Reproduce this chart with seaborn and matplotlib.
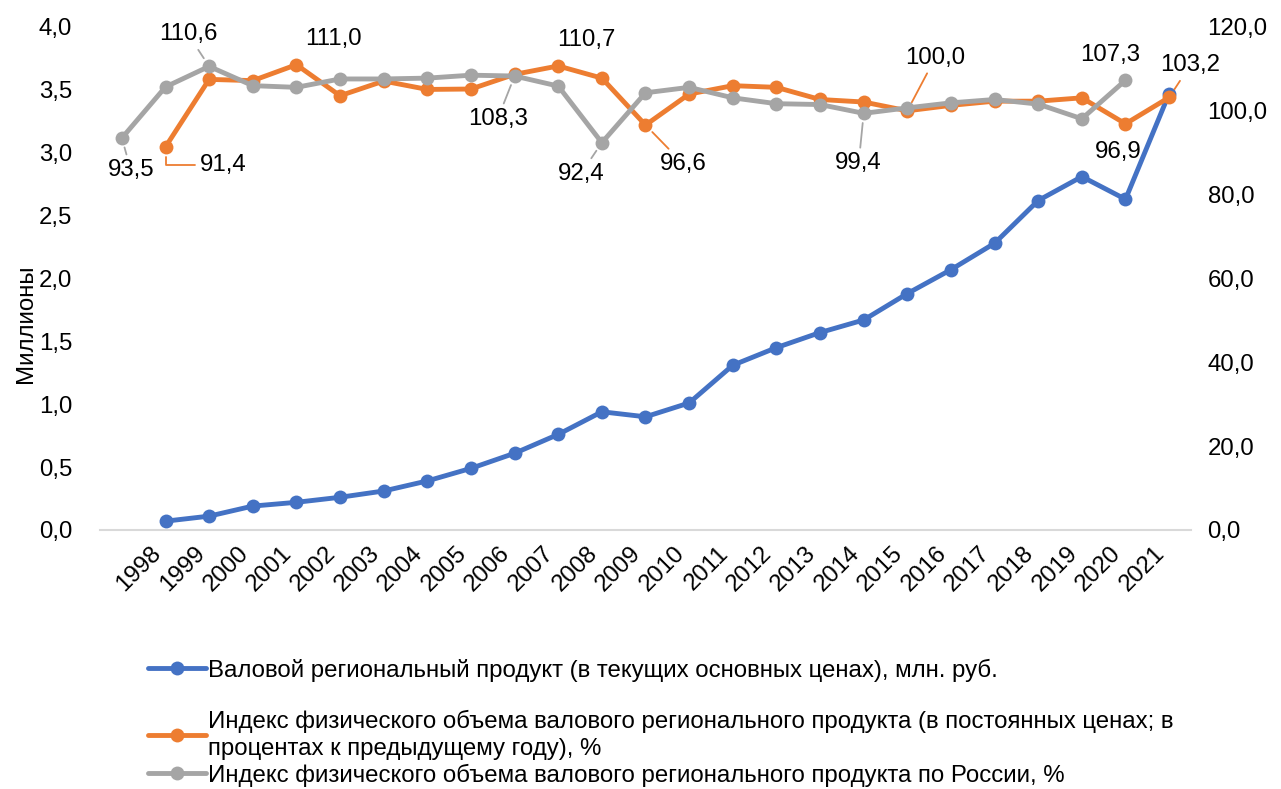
import numpy as np
import pandas as pd
import matplotlib
matplotlib.use("Agg")
import matplotlib.pyplot as plt
import seaborn as sns
from matplotlib.ticker import FuncFormatter
from matplotlib.lines import Line2D

# data
years = list(range(1998, 2022))
grp_mln = [0.07, 0.11, 0.19, 0.22, 0.26, 0.31, 0.39, 0.49, 0.61, 0.76, 0.94, 0.90,
           1.01, 1.31, 1.45, 1.57, 1.67, 1.88, 2.07, 2.28, 2.62, 2.81, 2.63, 3.47]
idx_region = [91.4, 107.5, 107.2, 111.0, 103.6, 107.1, 105.1, 105.2, 108.7, 110.7,
              107.8, 96.6, 104.0, 106.0, 105.6, 102.7, 102.1, 100.0, 101.3, 102.3,
              102.3, 103.1, 96.9, 103.2]
# the Russia series sits one category to the left in the source chart
russia_years = list(range(1997, 2021))
idx_russia = [93.5, 105.7, 110.6, 106.0, 105.6, 107.6, 107.6, 107.8, 108.5, 108.3,
              105.9, 92.4, 104.3, 105.6, 103.1, 101.7, 101.5, 99.4, 100.7, 101.9,
              102.7, 101.6, 98.1, 107.3]

lbl_grp = "Валовой региональный продукт (в текущих основных ценах), млн. руб."
lbl_reg = ("Индекс физического объема валового регионального продукта (в постоянных ценах; в\n"
           "процентах к предыдущему году), %")
lbl_rus = "Индекс физического объема валового регионального продукта по России, %"

c_blue, c_orange, c_gray = "#4472C4", "#ED7D31", "#A5A5A5"

sns.set_theme(style="white")
plt.rcParams["font.family"] = ["Liberation Sans", "DejaVu Sans"]
plt.rcParams["text.color"] = "black"
FS = 17.3

df_grp = pd.DataFrame({"pos": [y - 1998 for y in years], "val": grp_mln})
df_reg = pd.DataFrame({"pos": [y - 1998 for y in years], "val": idx_region})
df_rus = pd.DataFrame({"pos": [y - 1998 for y in russia_years], "val": idx_russia})

fig = plt.figure(figsize=(12.81, 7.89), dpi=100)
ax = fig.add_axes([0.0781, 0.3283, 0.8516, 0.6375])
ax2 = ax.twinx()

line_kw = dict(marker="o", markersize=10, linewidth=3.5, markeredgewidth=0)
sns.lineplot(data=df_grp, x="pos", y="val", ax=ax, color=c_blue, **line_kw)
sns.lineplot(data=df_reg, x="pos", y="val", ax=ax2, color=c_orange, **line_kw)
sns.lineplot(data=df_rus, x="pos", y="val", ax=ax2, color=c_gray, **line_kw)

ax.set_xlim(-1.5, 23.5)
ax.set_ylim(0, 4)
ax2.set_ylim(0, 120)
ax.set_yticks(np.arange(0, 4.01, 0.5))
ax2.set_yticks(np.arange(0, 121, 20))
fmt = FuncFormatter(lambda v, p: f"{v:.1f}".replace(".", ","))
ax.yaxis.set_major_formatter(fmt)
ax2.yaxis.set_major_formatter(fmt)

ax.set_xticks([y - 1998 for y in years])
ax.set_xticklabels([str(y) for y in years], rotation=45, ha="right", va="top",
                   fontsize=FS, color="black")
ax.tick_params(axis="x", length=0, pad=9)
ax.tick_params(axis="y", length=0, pad=20, labelsize=FS, labelcolor="black")
ax2.tick_params(axis="y", length=0, pad=12, labelsize=FS, labelcolor="black")
ax.set_xlabel("")
ax2.set_xlabel("")
ax2.set_ylabel("")
ax.set_ylabel("Миллионы", fontsize=FS, color="black")
ax.yaxis.set_label_coords(-0.058, 0.41)

for a in (ax, ax2):
    for s in ("top", "right", "left", "bottom"):
        a.spines[s].set_visible(False)
ax.spines["bottom"].set_visible(True)
ax.spines["bottom"].set_color("#D9D9D9")
ax.spines["bottom"].set_linewidth(1.5)
ax.grid(False)
ax2.grid(False)

# data labels: (series, year, dx, dy in pixels, leader)
labels = [
    ("rus", 1997, 9, -32, "straight"),
    ("reg", 1998, 58, -18, "elbow"),
    ("rus", 1999, -21, 32, "straight"),
    ("reg", 2001, 37, 26, None),
    ("rus", 2006, -17, -43, "straight"),
    ("reg", 2007, 28, 26, None),
    ("rus", 2008, -21, -31, "straight"),
    ("reg", 2009, 38, -39, "straight"),
    ("rus", 2014, -5, -50, "straight"),
    ("reg", 2015, 28, 53, "straight"),
    ("rus", 2020, -15, 25, None),
    ("reg", 2020, -7, -28, None),
    ("reg", 2021, 21, 32, "straight"),
]
for ser, yr, dx, dy, leader in labels:
    if ser == "reg":
        v = idx_region[years.index(yr)]
        col = c_orange
    else:
        v = idx_russia[russia_years.index(yr)]
        col = c_gray
    arrow = None
    if leader == "straight":
        arrow = dict(arrowstyle="-", color=col, lw=1.3, shrinkA=1, shrinkB=7)
    elif leader == "elbow":
        arrow = dict(arrowstyle="-", color=col, lw=1.3, shrinkA=1, shrinkB=7,
                     connectionstyle="angle,angleA=0,angleB=90,rad=0")
    ax2.annotate(f"{v:.1f}".replace(".", ","), xy=(yr - 1998, v),
                 xytext=(dx, dy), textcoords="offset pixels",
                 ha="center", va="center", fontsize=FS, color="black",
                 arrowprops=arrow, zorder=5)

# legend, one entry per block as in the source
def handle(c):
    return Line2D([], [], color=c, marker="o", markersize=10, linewidth=3.5,
                  markeredgewidth=0)

for c, lab, yy in [(c_blue, lbl_grp, 0.1508), (c_orange, lbl_reg, 0.0684),
                   (c_gray, lbl_rus, 0.0175)]:
    leg = fig.legend(handles=[handle(c)], labels=[lab], loc="center left",
                     bbox_to_anchor=(0.1155, yy), frameon=False, borderpad=0,
                     borderaxespad=0, handlelength=2.4, handletextpad=0.1,
                     fontsize=FS, labelcolor="black")
    for t in leg.get_texts():
        t.set_linespacing(1.3)

fig.savefig("out.png", dpi=100)
